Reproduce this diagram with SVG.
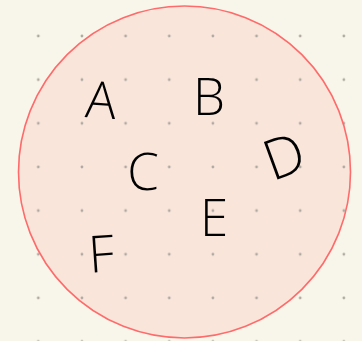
<svg xmlns="http://www.w3.org/2000/svg" width="362" height="341" viewBox="0 0 362 341">
  <defs>
    <pattern id="dots" patternUnits="userSpaceOnUse" x="16.5" y="14.2" width="43.65" height="43.65">
      <circle cx="21.8" cy="21.8" r="1.4" fill="#b0a9a1"/>
    </pattern>
    <style>
      .lbl { font-family: "Open Sans", "Liberation Sans", sans-serif; font-weight: 300; font-size: 51px; fill: #000; text-anchor: middle; }
    </style>
  </defs>
  <rect width="362" height="341" fill="#f8f6ea"/>
  <g id="set">
    <circle cx="184.5" cy="172" r="166" fill="#f9e5da"/>
  </g>
  <rect width="362" height="341" fill="url(#dots)"/>
  <circle cx="184.5" cy="172" r="166" fill="none" stroke="#ff6b6b" stroke-width="1.6"/>
  <g id="connectors"/>
  <g id="node-A"><text class="lbl" x="101" y="118" transform="rotate(4 101 100)">A</text></g>
  <g id="node-B"><text class="lbl" x="209" y="115">B</text></g>
  <g id="node-C"><text class="lbl" x="143" y="190">C</text></g>
  <g id="node-D"><text class="lbl" x="284" y="176" style="font-size:56px" transform="rotate(-20 284 156)">D</text></g>
  <g id="node-E"><text class="lbl" x="214" y="236">E</text></g>
  <g id="node-F"><text class="lbl" x="101" y="272" transform="rotate(-4 101 250)">F</text></g>
</svg>
